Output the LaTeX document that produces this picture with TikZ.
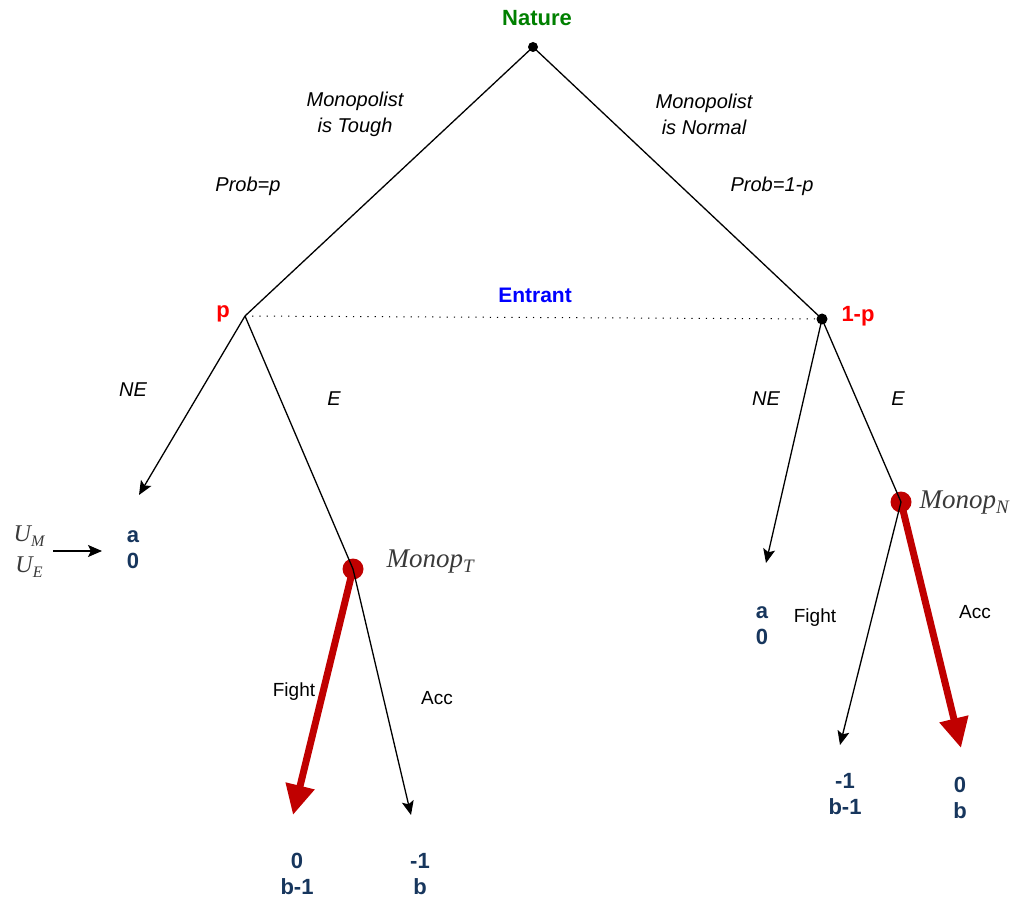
\documentclass[tikz,border=0pt]{standalone}
\usepackage{fontspec}
\setmainfont{Liberation Sans}
\newfontfamily\mathserif{Liberation Serif}
\usetikzlibrary{arrows.meta}
\definecolor{natgreen}{HTML}{008000}
\definecolor{entblue}{HTML}{0000FF}
\definecolor{probred}{HTML}{FF0000}
\definecolor{darkred}{HTML}{C00000}
\definecolor{navy}{HTML}{17365D}
\definecolor{symgray}{HTML}{3A3A3A}
\tikzset{
  edge/.style={line width=1.3pt},
  branch/.style={line width=1.3pt, -{Stealth[length=14pt,width=12pt,inset=3pt]}},
  bestreply/.style={line width=7pt, draw=darkred, -{Triangle[length=30pt,width=28pt]}},
  blackdot/.style={circle, fill=black, inner sep=0pt},
  reddot/.style={circle, fill=darkred, inner sep=0pt, minimum size=21pt},
  payoff/.style={font=\fontsize{22}{26}\selectfont\bfseries, text=navy, align=center},
  belief/.style={font=\fontsize{22}{26}\selectfont\bfseries, text=probred},
  caption/.style={font=\fontsize{20}{26}\selectfont\itshape, align=center},
  movelabel/.style={font=\fontsize{19}{23}\selectfont},
  player/.style={font=\fontsize{27}{30}\selectfont\mathserif\itshape, text=symgray, anchor=west},
  utility/.style={font=\fontsize{24}{30}\selectfont\mathserif\itshape, text=symgray}
}
\begin{document}
\begin{tikzpicture}[x=1pt, y=-1pt]
\useasboundingbox (0,0) rectangle (1029,901);

% decision nodes
\node[blackdot, minimum size=10pt] (nature) at (533,47) {};
\coordinate (tough) at (245,316);
\node[blackdot, minimum size=11pt] (normal) at (822,319) {};
\node[reddot] (mt) at (353,569) {};
\node[reddot] (mn) at (901,502) {};

% arrow ends
\coordinate (tne) at (139,495);
\coordinate (tfight) at (293,815);
\coordinate (tacc) at (411,815);
\coordinate (nne) at (766,563);
\coordinate (nfight) at (840,745);
\coordinate (nacc) at (961,748);

% labels of the players and beliefs
\node[font=\fontsize{22}{26}\selectfont\bfseries, text=natgreen] (naturelbl) at (537,18) {Nature};
\node[font=\fontsize{21}{26}\selectfont\bfseries, text=entblue] (entrant) at (535,295) {Entrant};
\node[belief] (pl) at (223,314) {p};
\node[belief] (ql) at (858,316) {1-p};

\node[caption] (toughlbl) at (355,114) {Monopolist\\is Tough};
\node[caption] (normallbl) at (704,114) {Monopolist\\is Normal};
\node[caption] (probp) at (248,186) {Prob=p};
\node[caption] (probq) at (772,186) {Prob=1-p};

\node[caption] (tnel) at (133,390) {NE};
\node[caption] (tel) at (334,399) {E};
\node[caption] (nnel) at (766,399) {NE};
\node[caption] (nel) at (898,399) {E};

\node[player] (mtl) at (383,562) {Monop\raisebox{-0.4ex}{\fontsize{19}{20}\selectfont T}};
\node[player] (mnl) at (916,503) {Monop\raisebox{-0.4ex}{\fontsize{19}{20}\selectfont N}};

\node[movelabel] (tfl) at (294,692) {Fight};
\node[movelabel] (tal) at (437,698) {Acc};
\node[movelabel] (nfl) at (815,618) {Fight};
\node[movelabel] (nal) at (975,612) {Acc};

% payoffs (monopolist above, entrant below)
\node[payoff] (pay1) at (133,550) {a\\0};
\node[payoff] (pay2) at (297,874) {0\\b-1};
\node[payoff] (pay3) at (420,874) {-1\\b};
\node[payoff] (pay4) at (762,626) {a\\0};
\node[payoff] (pay5) at (845,794) {-1\\b-1};
\node[payoff] (pay6) at (960,798) {0\\b};

\node[utility] (um) at (29,536) {U\raisebox{-0.45ex}{\fontsize{16}{18}\selectfont M}};
\node[utility] (ue) at (29,567) {U\raisebox{-0.45ex}{\fontsize{16}{18}\selectfont E}};
\coordinate (ustart) at (53,551);
\coordinate (uend) at (102,551);

% equilibrium replies of the monopolist
\draw[bestreply] (mt.center) -- (tfight);
\draw[bestreply] (mn.center) -- (nacc);

% tree branches
\draw[edge] (nature.center) -- (tough);
\draw[edge] (nature.center) -- (normal.center);
\draw[line width=1pt, dash pattern=on 1.2pt off 6pt] (tough) -- (normal.center);
\draw[branch] (tough) -- (tne);
\draw[edge] (tough) -- (mt.center);
\draw[branch] (mt.center) -- (tacc);
\draw[branch] (normal.center) -- (nne);
\draw[edge] (normal.center) -- (mn.center);
\draw[branch] (mn.center) -- (nfight);
\draw[branch] (ustart) -- (uend);
\end{tikzpicture}
\end{document}
